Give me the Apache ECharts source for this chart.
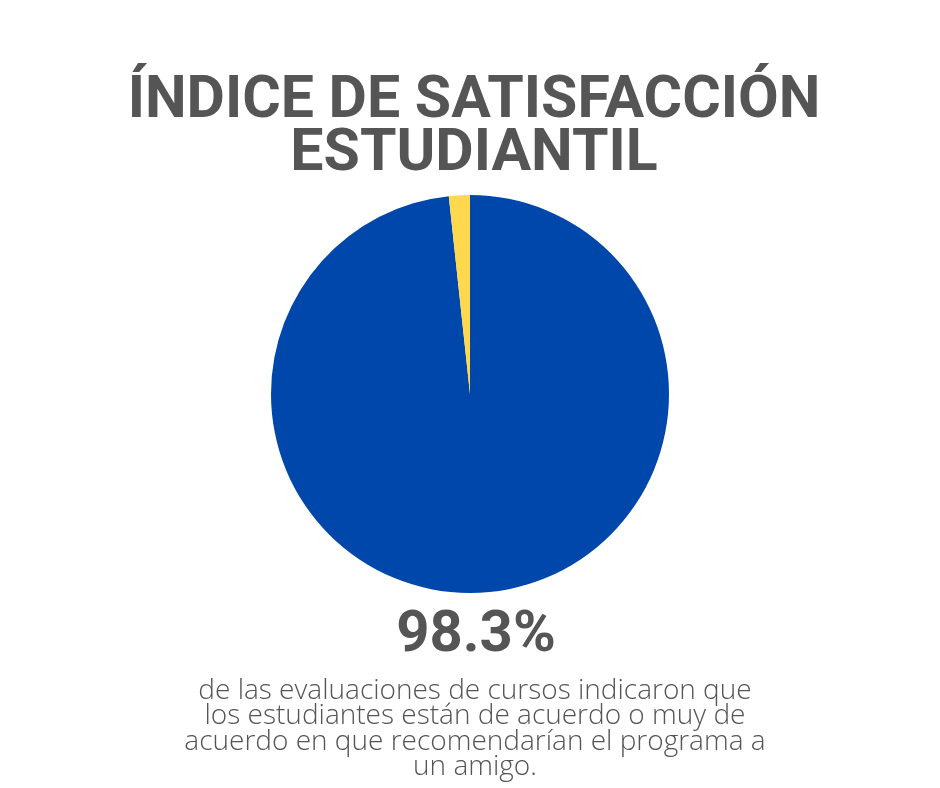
<!DOCTYPE html>
<html><head><meta charset="utf-8">
<script src="https://cdn.jsdelivr.net/npm/echarts@6/dist/echarts.min.js"></script>
<style>html,body{margin:0;padding:0;background:#fff}#c{width:940px;height:788px}</style>
</head><body><div id="c"></div>
<script>
const categories = ['De acuerdo o muy de acuerdo', 'Otros'];
const values = [98.3, 1.7];
const colors = ['#0047AB', '#FFD84D'];
const titleLines = ['ÍNDICE DE SATISFACCIÓN', 'ESTUDIANTIL'];
const headline = '98.3%';
const descLines = [
  'de las evaluaciones de cursos indicaron que',
  'los estudiantes están de acuerdo o muy de',
  'acuerdo en que recomendarían el programa a',
  'un amigo.'
];
const chart = echarts.init(document.getElementById('c'));
chart.setOption({
  animation: false,
  backgroundColor: '#ffffff',
  title: [
    { text: titleLines.join('\n'), left: 469, top: 71, textAlign: 'center',
      textStyle: { fontFamily: 'Roboto', fontWeight: 'bold', fontSize: 59, lineHeight: 53, color: '#555555' } },
    { text: headline, left: 471, top: 602, textAlign: 'center',
      textStyle: { fontFamily: 'Roboto', fontWeight: 'bold', fontSize: 58, color: '#555555' } },
    { text: descLines.join('\n'), left: 470, top: 673, textAlign: 'center',
      textStyle: { fontFamily: 'Open Sans', fontWeight: 350, fontSize: 28, lineHeight: 25.5, color: '#555555' } }
  ],
  series: [{
    type: 'pie',
    center: [470, 394],
    radius: [0, 199],
    startAngle: 90,
    clockwise: true,
    label: { show: false },
    labelLine: { show: false },
    itemStyle: { borderWidth: 0 },
    emphasis: { disabled: true },
    data: categories.map((c, i) => ({ name: c, value: values[i], itemStyle: { color: colors[i] } }))
  }]
});
</script></body></html>
